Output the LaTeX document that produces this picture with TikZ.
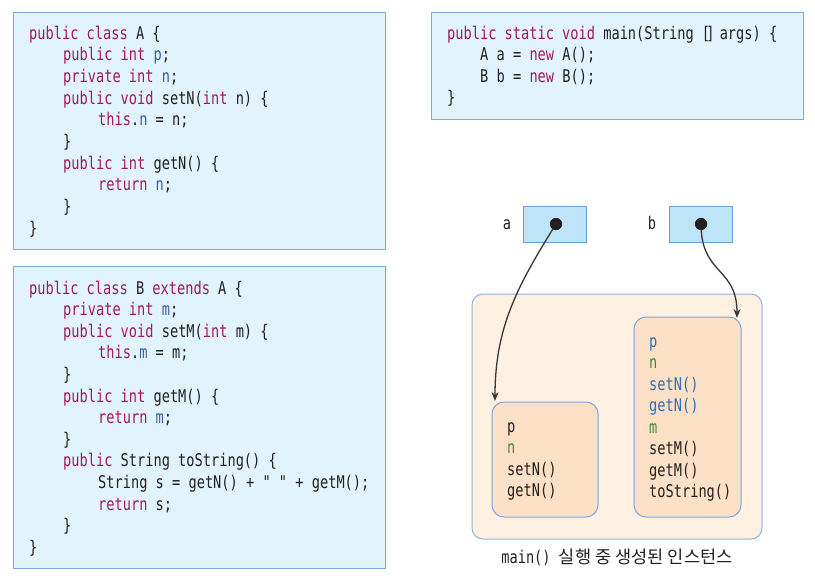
\documentclass[tikz,border=0pt]{standalone}
\usepackage{fontspec}
\usetikzlibrary{arrows.meta}
\newfontfamily\codefont[FakeStretch=0.78]{DejaVu Sans Mono}
\newfontfamily\krfont{Noto Sans CJK KR}
\definecolor{kwc}{HTML}{A3195B}
\definecolor{vrc}{HTML}{3A5BA8}
\definecolor{txt}{HTML}{231F20}
\definecolor{codefill}{HTML}{E1F3FD}
\definecolor{codebord}{HTML}{7FA8DA}
\definecolor{refill}{HTML}{BDE4F8}
\definecolor{refbord}{HTML}{6B9FD8}
\definecolor{outerfill}{HTML}{FEF1E2}
\definecolor{outerbord}{HTML}{8DB3E2}
\definecolor{innerfill}{HTML}{FCE1C6}
\definecolor{innerbord}{HTML}{7EA6DC}
\definecolor{blueI}{HTML}{2F6DB5}
\definecolor{greenI}{HTML}{3A8A3A}
\newcommand\Kw[1]{\textcolor{kwc}{#1}}
\newcommand\Vr[1]{\textcolor{vrc}{#1}}
\newcommand\Bl[1]{\textcolor{blueI}{#1}}
\newcommand\Gr[1]{\textcolor{greenI}{#1}}
\newcommand\Brk{\hbox{[\kern-0.22em]\kern0.3em}}
\begin{document}
\begin{tikzpicture}[x=1pt,y=-1pt,
  code/.style={anchor=base west,inner sep=0pt,text=txt,font=\codefont\fontsize{17.5}{20}\selectfont},
  codebox/.style={draw=codebord,fill=codefill,line width=1pt,inner sep=0pt},
  refbox/.style={draw=refbord,fill=refill,line width=1pt,inner sep=0pt,minimum width=63,minimum height=36},
  dot/.style={circle,fill=txt,inner sep=0pt,minimum size=12},
  outerbox/.style={draw=outerbord,fill=outerfill,line width=1pt,rounded corners=11,inner sep=0pt},
  innerbox/.style={draw=innerbord,fill=innerfill,line width=1pt,rounded corners=12,inner sep=0pt},
  ptr/.style={draw=txt!90,line width=1.3pt,-{Stealth[length=9pt,width=7pt]}}]
\useasboundingbox (0,0) rectangle (815,581);
% code boxes
\node[codebox,minimum width=372,minimum height=237] (boxA) at (199,130.5) {};
\node[codebox,minimum width=372,minimum height=302] (boxB) at (199,417) {};
\node[codebox,minimum width=372,minimum height=107] (boxM) at (617,65.5) {};
% class A
\node[code] (A1) at (29,39) {\Kw{public class} A \{};
\node[code] (A2) at (63,60.7) {\Kw{public int} \Vr{p};};
\node[code] (A3) at (63,82.3) {\Kw{private int} \Vr{n};};
\node[code] (A4) at (63,104) {\Kw{public void} setN(\Kw{int} n) \{};
\node[code] (A5) at (98,125.7) {\Kw{this}.\Vr{n} = n;};
\node[code] (A6) at (63,147.3) {\}};
\node[code] (A7) at (63,169) {\Kw{public int} getN() \{};
\node[code] (A8) at (98,190.7) {\Kw{return} \Vr{n};};
\node[code] (A9) at (63,212.3) {\}};
\node[code] (A10) at (29,234) {\}};
% class B
\node[code] (B1) at (29,294) {\Kw{public class} B \Kw{extends} A \{};
\node[code] (B2) at (63,315.6) {\Kw{private int} \Vr{m};};
\node[code] (B3) at (63,337.2) {\Kw{public void} setM(\Kw{int} m) \{};
\node[code] (B4) at (98,358.8) {\Kw{this}.\Vr{m} = m;};
\node[code] (B5) at (63,380.4) {\}};
\node[code] (B6) at (63,402) {\Kw{public int} getM() \{};
\node[code] (B7) at (98,423.6) {\Kw{return} \Vr{m};};
\node[code] (B8) at (63,445.2) {\}};
\node[code] (B9) at (63,466.8) {\Kw{public} String toString() \{};
\node[code] (B10) at (98,488.4) {String s = getN() + " " + getM();};
\node[code] (B11) at (98,510) {\Kw{return} s;};
\node[code] (B12) at (63,531.6) {\}};
\node[code] (B13) at (29,553.2) {\}};
% main
\node[code] (M1) at (447,39) {\Kw{public static void} main(String \Brk{}args) \{};
\node[code] (M2) at (480,60.5) {A a = \Kw{new} A();};
\node[code] (M3) at (480,82) {B b = \Kw{new} B();};
\node[code] (M4) at (447,103.5) {\}};
% references
\node[refbox] (ra) at (555,224) {};
\node[refbox] (rb) at (700.5,224) {};
\node[dot] (da) at (556,224) {};
\node[dot] (db) at (701,224) {};
\node[code,anchor=base] (la) at (507,229) {a};
\node[code,anchor=base] (lb) at (652,229) {b};
% instances
\node[outerbox,minimum width=290,minimum height=245] (outer) at (617,416.5) {};
\node[innerbox,minimum width=106,minimum height=115] (iA) at (545,459.5) {};
\node[innerbox,minimum width=107,minimum height=200] (iB) at (687.5,417) {};
\node[code] (a1) at (507,432) {p};
\node[code] (a2) at (507,453.5) {\Gr{n}};
\node[code] (a3) at (507,475) {setN()};
\node[code] (a4) at (507,496.5) {getN()};
\node[code] (b1) at (649,347) {\Bl{p}};
\node[code] (b2) at (649,368.5) {\Gr{n}};
\node[code] (b3) at (649,390) {\Bl{setN()}};
\node[code] (b4) at (649,411.5) {\Bl{getN()}};
\node[code] (b5) at (649,433) {\Gr{m}};
\node[code] (b6) at (649,454.5) {setM()};
\node[code] (b7) at (649,476) {getM()};
\node[code] (b8) at (649,497.5) {toString()};
\node[code,anchor=base] (cap) at (617,563) {main() {\krfont\fontsize{17.6}{20}\selectfont 실행 중 생성된 인스턴스}};
% pointers
\coordinate (ta) at (495,401);
\coordinate (tb) at (737,318);
\draw[ptr] (da.center) to[out=-122,in=90] (ta);
\draw[ptr] (db.center) to[out=-90,in=90,looseness=1.3] (tb);
\node[dot] at (da) {};
\node[dot] at (db) {};
\end{tikzpicture}
\end{document}
